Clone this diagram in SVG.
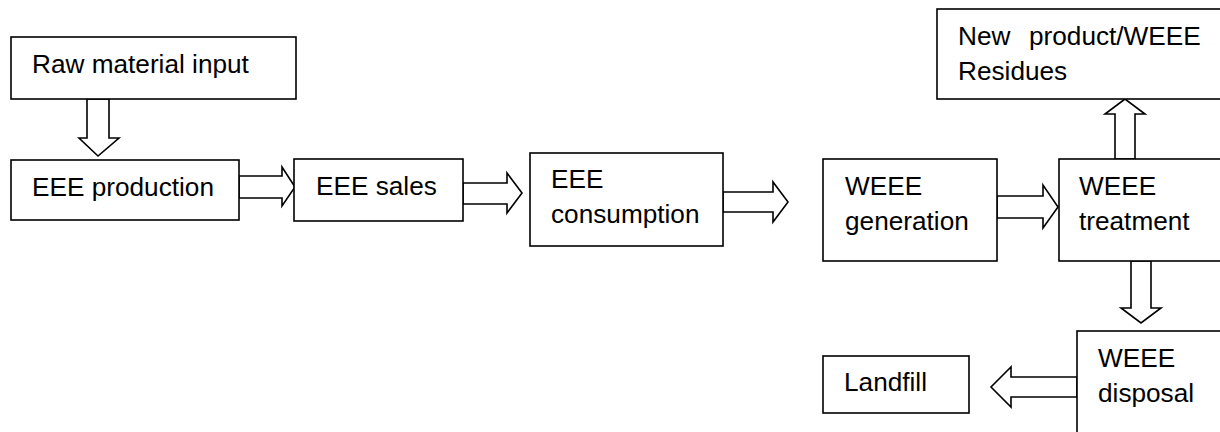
<svg xmlns="http://www.w3.org/2000/svg" width="1220" height="432" viewBox="0 0 1220 432">
  <style>
    .box { fill: #ffffff; stroke: #000000; stroke-width: 1.6; }
    .arrow { fill: #ffffff; stroke: #000000; stroke-width: 1.6; stroke-linejoin: miter; }
    .label { font-family: "Liberation Sans", Arial, sans-serif; font-size: 26.2px; fill: #000000; }
  </style>
  <rect x="0" y="0" width="1220" height="432" fill="#ffffff"/>

  <!-- block arrows between stages -->
  <g id="connectors">
    <polygon class="arrow" points="87,99 109,99 109,138 119,138 98,156 79,138 87,138"/>
    <polygon class="arrow" points="239,176 282,176 282,167 295,187 282,206 282,198 239,198"/>
    <polygon class="arrow" points="463,183 507,183 507,173 522,193 507,213 507,204 463,204"/>
    <polygon class="arrow" points="723,192 773,192 773,182 788,202 773,222 773,212 723,212"/>
    <polygon class="arrow" points="997,196 1043,196 1043,185 1058,207 1043,228 1043,218 997,218"/>
    <polygon class="arrow" points="1115,159 1115,114 1105,114 1125,99 1145,114 1135,114 1135,159"/>
    <polygon class="arrow" points="1131,261 1131,308 1121,308 1141,323 1161,308 1151,308 1151,261"/>
    <polygon class="arrow" points="1077,377 1011,377 1011,367 991,387 1011,407 1011,397 1077,397"/>
  </g>

  <g id="raw-material">
    <rect class="box" x="11" y="37" width="285" height="62"/>
    <text class="label" x="32" y="73">Raw material input</text>
  </g>

  <g id="eee-production">
    <rect class="box" x="11" y="160" width="228" height="60"/>
    <text class="label" x="32" y="196">EEE production</text>
  </g>

  <g id="eee-sales">
    <rect class="box" x="294" y="159" width="169" height="62"/>
    <text class="label" x="316" y="195">EEE sales</text>
  </g>

  <g id="eee-consumption">
    <rect class="box" x="530" y="153" width="193" height="93"/>
    <text class="label" x="551" y="188">EEE</text>
    <text class="label" x="551" y="223">consumption</text>
  </g>

  <g id="weee-generation">
    <rect class="box" x="823" y="159" width="174" height="102"/>
    <text class="label" x="845" y="195">WEEE</text>
    <text class="label" x="845" y="230">generation</text>
  </g>

  <g id="weee-treatment">
    <rect class="box" x="1059" y="159" width="180" height="102"/>
    <text class="label" x="1079" y="195">WEEE</text>
    <text class="label" x="1079" y="230">treatment</text>
  </g>

  <g id="new-product">
    <rect class="box" x="937" y="9" width="300" height="90"/>
    <text class="label" y="45"><tspan x="958">New</tspan><tspan x="1029">product/WEEE</tspan></text>
    <text class="label" x="958" y="80">Residues</text>
  </g>

  <g id="weee-disposal">
    <rect class="box" x="1077" y="331" width="160" height="120"/>
    <text class="label" x="1098" y="367">WEEE</text>
    <text class="label" x="1098" y="402">disposal</text>
  </g>

  <g id="landfill">
    <rect class="box" x="823" y="356" width="146" height="57"/>
    <text class="label" x="844" y="391">Landfill</text>
  </g>
</svg>
